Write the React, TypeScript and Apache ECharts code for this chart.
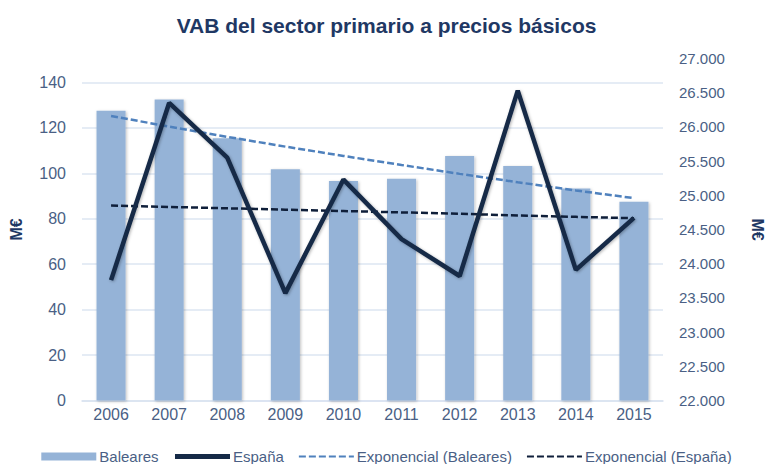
import React, { useEffect, useRef } from "react";
import * as echarts from "echarts";

const years = ["2006", "2007", "2008", "2009", "2010", "2011", "2012", "2013", "2014", "2015"];
const baleares = [127.6, 132.5, 115.5, 101.8, 96.7, 97.7, 107.7, 103.3, 93.3, 87.5];
const espana = [23760, 26350, 25550, 23570, 25230, 24360, 23820, 26530, 23910, 24670];
const expBaleares = [125.3, 120.6, 116.1, 111.8, 107.7, 103.7, 99.8, 96.1, 92.5, 89.1];
const expEspana = [24850, 24830, 24810, 24790, 24770, 24750, 24730, 24705, 24685, 24665];

const FONT = "'Liberation Sans Narrow', 'Arial Narrow', 'Liberation Sans', Arial, sans-serif";
const LABEL = "#4a5f85";
const NAVY = "#1f3864";
const HIDE_SYMBOL = { color: "rgba(0,0,0,0)", borderColor: "rgba(0,0,0,0)", borderWidth: 0 };

export default function App() {
  const ref = useRef<HTMLDivElement>(null);
  useEffect(() => {
    if (!ref.current) return;
    const chart = echarts.init(ref.current, undefined, { renderer: "svg" });
    chart.setOption({
      animation: false,
      backgroundColor: "#ffffff",
      textStyle: { fontFamily: FONT },
      title: {
        text: "VAB del sector primario a precios básicos",
        left: "center",
        top: 10,
        textStyle: { fontFamily: FONT, fontSize: 21, fontWeight: "bold", color: NAVY },
      },
      legend: {
        bottom: -5,
        left: "center",
        itemWidth: 55,
        itemHeight: 8,
        itemGap: 14,
        textStyle: { fontFamily: FONT, fontSize: 15, color: LABEL, padding: [0, 0, 0, -2] },
        data: [
          { name: "Baleares", icon: "rect" },
          { name: "España", itemStyle: HIDE_SYMBOL, lineStyle: { width: 5 } },
          { name: "Exponencial (Baleares)", itemStyle: HIDE_SYMBOL },
          { name: "Exponencial (España)", itemStyle: HIDE_SYMBOL },
        ],
      },
      grid: { left: 78, right: 101, top: 58.5, bottom: 63.5 },
      xAxis: {
        type: "category",
        data: years,
        axisLine: { lineStyle: { color: "#d9e2f0", width: 1.5 } },
        axisTick: { show: false },
        axisLabel: { color: LABEL, fontSize: 16, margin: 6, fontFamily: FONT },
      },
      yAxis: [
        {
          type: "value",
          min: 0,
          max: 150.6,
          interval: 20,
          name: "M€",
          nameLocation: "middle",
          nameGap: 58,
          nameTextStyle: { color: NAVY, fontWeight: "bold", fontSize: 16, fontFamily: FONT },
          axisLine: { show: false },
          axisTick: { show: false },
          axisLabel: {
            color: LABEL,
            fontSize: 16,
            margin: 16,
            fontFamily: FONT,
            formatter: (v: number) => (Math.abs(v % 20) < 1e-6 && v <= 140 ? String(v) : ""),
          },
          splitLine: { show: true, showMaxLine: false, lineStyle: { color: "#dce6f2", width: 1.5 } },
        },
        {
          type: "value",
          min: 22000,
          max: 27000,
          interval: 500,
          name: "M€",
          nameLocation: "middle",
          nameRotate: -90,
          nameGap: 86,
          nameTextStyle: { color: NAVY, fontWeight: "bold", fontSize: 16, fontFamily: FONT },
          axisLine: { show: false },
          axisTick: { show: false },
          splitLine: { show: false },
          axisLabel: {
            color: LABEL,
            fontSize: 15,
            margin: 16,
            fontFamily: FONT,
            formatter: (v: number) => v.toLocaleString("de-DE", { minimumFractionDigits: 0 }).replace(/,/g, "."),
          },
        },
      ],
      series: [
        {
          name: "Baleares",
          type: "bar",
          yAxisIndex: 0,
          data: baleares,
          barWidth: "50%",
          itemStyle: {
            color: "#95b3d7",
            shadowBlur: 3,
            shadowColor: "rgba(0,0,0,0.25)",
            shadowOffsetX: 1,
            shadowOffsetY: 1,
          },
        },
        {
          name: "España",
          type: "line",
          yAxisIndex: 1,
          data: espana,
          symbol: "none",
          lineStyle: {
            color: "#152a47",
            width: 4.5,
            shadowBlur: 3,
            shadowColor: "rgba(0,0,0,0.3)",
            shadowOffsetX: 1,
            shadowOffsetY: 1,
          },
          itemStyle: { color: "#152a47" },
          z: 4,
        },
        {
          name: "Exponencial (Baleares)",
          type: "line",
          yAxisIndex: 0,
          data: expBaleares,
          symbol: "none",
          lineStyle: { color: "#4f81bd", width: 2.5, type: [7, 3] },
          itemStyle: { color: "#4f81bd" },
          z: 3,
        },
        {
          name: "Exponencial (España)",
          type: "line",
          yAxisIndex: 1,
          data: expEspana,
          symbol: "none",
          lineStyle: { color: "#0f1f3a", width: 2.5, type: [7, 3] },
          itemStyle: { color: "#0f1f3a" },
          z: 3,
        },
      ],
    });
    return () => chart.dispose();
  }, []);
  return <div ref={ref} style={{ width: 773, height: 464, position: "absolute", left: 0, top: 0 }} />;
}
